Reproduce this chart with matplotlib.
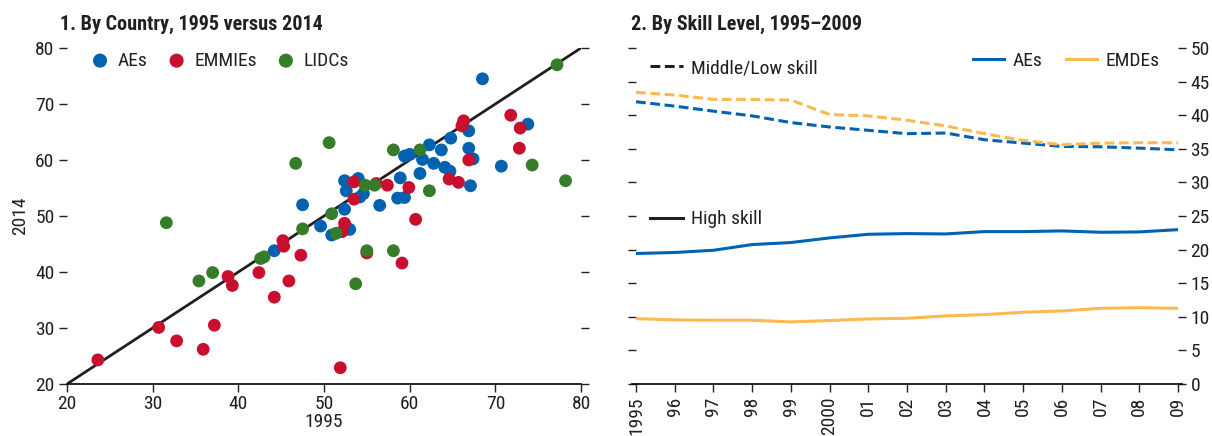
import matplotlib
matplotlib.use("Agg")
import matplotlib.pyplot as plt
from matplotlib.lines import Line2D

plt.rcParams['font.family'] = ['Roboto Condensed', 'DejaVu Sans']

# ---------------- Data: panel 1 ----------------
ae_1995 = [44.2, 47.5, 49.6, 50.9, 52.4, 53.0, 52.4, 54.0, 52.6, 54.6, 54.2, 56.5, 58.6, 59.4, 58.9, 61.2,
           59.4, 60.0, 61.5, 62.3, 62.8, 64.8, 66.9, 63.7, 66.9, 67.4, 64.1, 64.7, 70.7, 67.1, 73.8, 68.5]
ae_2014 = [43.8, 52.0, 48.2, 46.6, 51.2, 47.6, 56.3, 56.7, 54.5, 54.0, 53.4, 51.9, 53.2, 53.3, 56.8, 57.6,
           60.7, 61.0, 60.1, 62.7, 59.4, 63.9, 65.2, 61.8, 62.1, 60.2, 58.7, 58.0, 58.9, 55.4, 66.4, 74.5]
em_1995 = [23.6, 30.7, 32.8, 35.9, 37.2, 38.8, 39.3, 42.4, 44.2, 45.2, 45.3, 45.9, 47.3, 51.9, 52.1, 52.4,
           53.5, 53.5, 55.0, 56.1, 57.4, 59.1, 59.9, 60.7, 64.6, 65.7, 66.1, 66.3, 66.9, 71.8, 72.9, 72.8]
em_2014 = [24.3, 30.1, 27.7, 26.2, 30.5, 39.2, 37.6, 39.9, 35.5, 45.6, 44.6, 38.4, 43.0, 22.9, 47.2, 48.7,
           53.0, 56.1, 43.4, 55.8, 55.5, 41.6, 55.1, 49.4, 56.6, 56.0, 66.1, 67.0, 60.0, 68.0, 65.7, 62.1]
li_1995 = [31.6, 35.4, 37.0, 42.6, 43.0, 46.7, 47.5, 50.6, 50.9, 51.4, 53.7, 54.8, 55.9, 55.0, 58.1, 58.1,
           61.2, 62.3, 74.3, 77.2, 78.2]
li_2014 = [48.8, 38.4, 39.9, 42.4, 42.7, 59.4, 47.7, 63.1, 50.4, 46.9, 37.9, 55.5, 55.5, 43.8, 43.8, 61.8,
           61.8, 54.5, 59.1, 77.0, 56.3]
diag = [20, 80]
p1_ticks = [20, 30, 40, 50, 60, 70, 80]

# ---------------- Data: panel 2 ----------------
years = list(range(1995, 2010))
year_labels = ["1995", "96", "97", "98", "99", "2000", "01", "02", "03", "04", "05", "06", "07", "08", "09"]
ae_mid = [42.0, 41.35, 40.6, 39.9, 38.9, 38.25, 37.75, 37.25, 37.35, 36.35, 35.85, 35.35, 35.3, 35.1, 34.85]
emde_mid = [43.4, 43.0, 42.35, 42.35, 42.25, 40.1, 39.9, 39.25, 38.4, 37.25, 36.25, 35.6, 35.85, 35.9, 35.9]
ae_high = [19.42, 19.57, 19.9, 20.75, 21.05, 21.74, 22.28, 22.38, 22.33, 22.68, 22.68, 22.78, 22.58, 22.63, 22.97]
emde_high = [9.73, 9.54, 9.49, 9.49, 9.24, 9.44, 9.68, 9.78, 10.13, 10.33, 10.67, 10.87, 11.26, 11.36, 11.26]
p2_ticks = [0, 5, 10, 15, 20, 25, 30, 35, 40, 45, 50]

BLUE = "#0062b1"
RED = "#c8102e"
GREEN = "#367c2b"
YELLOW = "#fdb94e"
TXT = "#231f20"
FS = 14
DASH = (0, (3.2, 1.5))

W, H = 1212, 436
fig = plt.figure(figsize=(W / 100, H / 100), dpi=100)

def box(x0, x1, ytop, ybot):
    return [x0 / W, 1 - ybot / H, (x1 - x0) / W, (ybot - ytop) / H]

# ---------------- Panel 1 ----------------
ax1 = fig.add_axes(box(67, 581, 48, 384))
ax1.plot(diag, diag, color="#231f20", lw=2, zorder=1)
ms = 85
ax1.scatter(ae_1995, ae_2014, s=ms, color=BLUE, edgecolors="none", zorder=2, label="AEs")
ax1.scatter(em_1995, em_2014, s=ms, color=RED, edgecolors="none", zorder=3, label="EMMIEs")
ax1.scatter(li_1995, li_2014, s=ms, color=GREEN, edgecolors="none", zorder=4, label="LIDCs")
ax1.set_xlim(20, 80)
ax1.set_ylim(20, 80)
ax1.set_xticks(p1_ticks)
ax1.set_yticks(p1_ticks)
for s in ["top", "left", "right"]:
    ax1.spines[s].set_visible(False)
ax1.spines["bottom"].set_linewidth(1.2)
ax1.tick_params(axis="x", direction="out", length=6, width=1, labelsize=FS, colors=TXT, pad=2)
ax1.tick_params(axis="y", direction="out", length=6, width=1, labelsize=FS, colors=TXT, pad=3,
                right=True)
ax1.set_xlabel("1995", fontsize=FS, color=TXT, labelpad=0)
ax1.set_ylabel("2014", fontsize=FS, color=TXT, labelpad=4)
leg = ax1.legend(loc="upper left", bbox_to_anchor=(0.034, 1.012), ncol=3, frameon=False,
                 fontsize=FS, handlelength=0.8, handletextpad=0.5, columnspacing=1.1,
                 borderaxespad=0, markerscale=1.1)
for t in leg.get_texts():
    t.set_color(TXT)

fig.text(60 / W, 1 - 30 / H, "1. By Country, 1995 versus 2014", fontsize=14.5, fontweight="bold",
         color=TXT, va="baseline", ha="left")

# ---------------- Panel 2 ----------------
ax2 = fig.add_axes(box(636, 1178, 48, 384))
ax2.plot(years, ae_mid, color=BLUE, lw=2.2, ls=DASH)
ax2.plot(years, emde_mid, color=YELLOW, lw=2.2, ls=DASH)
ax2.plot(years, ae_high, color=BLUE, lw=2.2)
ax2.plot(years, emde_high, color=YELLOW, lw=2.2)
ax2.set_xlim(1995, 2009)
ax2.set_ylim(0, 50)
ax2.set_xticks(years)
ax2.set_xticklabels(year_labels, rotation=90)
ax2.set_yticks(p2_ticks)
for s in ["top", "left", "right"]:
    ax2.spines[s].set_visible(False)
ax2.spines["bottom"].set_linewidth(1.2)
ax2.spines["bottom"].set_bounds(1994.9, 2009.1)
ax2.tick_params(axis="x", direction="out", length=6, width=1, labelsize=FS, colors=TXT, pad=3)
ax2.tick_params(axis="y", direction="out", length=6, width=1, labelsize=FS, colors=TXT, pad=3,
                left=True, right=True, labelleft=False, labelright=True)

h_ae = Line2D([], [], color=BLUE, lw=2.2)
h_em = Line2D([], [], color=YELLOW, lw=2.2)
lg1 = ax2.legend([h_ae, h_em], ["AEs", "EMDEs"], loc="upper right", bbox_to_anchor=(0.981, 1.012),
                 ncol=2, frameon=False, fontsize=FS, handlelength=1.6, handletextpad=0.45,
                 columnspacing=1.2, borderaxespad=0)
ax2.add_artist(lg1)
h_mid = Line2D([], [], color="#231f20", lw=2.2, ls=DASH)
lg2 = ax2.legend([h_mid], ["Middle/Low skill"], loc="upper left", bbox_to_anchor=(0.011, 0.99),
                 frameon=False, fontsize=FS, handlelength=1.7, handletextpad=0.4, borderaxespad=0)
ax2.add_artist(lg2)
h_hi = Line2D([], [], color="#231f20", lw=2.2)
lg3 = ax2.legend([h_hi], ["High skill"], loc="upper left", bbox_to_anchor=(0.011, 0.54),
                 frameon=False, fontsize=FS, handlelength=1.7, handletextpad=0.4, borderaxespad=0)
for lg in (lg1, lg2, lg3):
    for t in lg.get_texts():
        t.set_color(TXT)

fig.text(631 / W, 1 - 30 / H, "2. By Skill Level, 1995\u20132009", fontsize=14.5, fontweight="bold",
         color=TXT, va="baseline", ha="left")

fig.savefig("out.png", dpi=100)
